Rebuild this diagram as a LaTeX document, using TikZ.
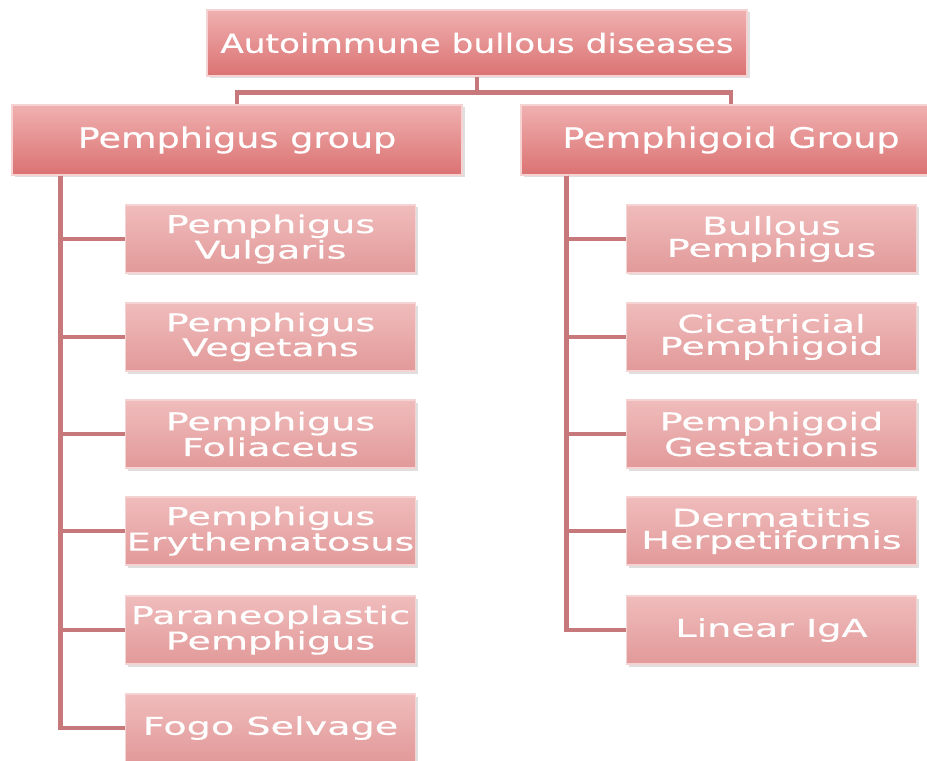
\documentclass[tikz,border=0pt]{standalone}
\usepackage{fontspec}
\setmainfont{DejaVu Sans}
\newfontfamily\headfont[FakeStretch=1.3,FakeBold=0.4]{DejaVu Sans}
\newfontfamily\leaffont[FakeStretch=1.55,FakeBold=0.4]{DejaVu Sans}
\usetikzlibrary{shadows}

\definecolor{rosetop}{HTML}{F0B0B0}
\definecolor{rosebot}{HTML}{DB7272}
\definecolor{petaltop}{HTML}{F0BCBC}
\definecolor{petalbot}{HTML}{E29999}
\definecolor{rosewire}{HTML}{C7787A}
\definecolor{roseedge}{HTML}{F6D3D3}

\tikzset{
  groupbox/.style={rectangle, draw=roseedge, line width=0.6pt,
    top color=rosetop, bottom color=rosebot, text=white, inner xsep=0pt,
    font=\headfont\fontsize{16}{18}\selectfont, align=center,
    drop shadow={opacity=0.25, shadow xshift=0.05cm, shadow yshift=-0.05cm}},
  childbox/.style={rectangle, draw=roseedge, line width=0.6pt,
    top color=petaltop, bottom color=petalbot, text=white, inner xsep=0pt,
    minimum width=5.8cm, minimum height=1.36cm,
    font=\leaffont\fontsize{14}{12.6}\selectfont, align=center,
    drop shadow={opacity=0.25, shadow xshift=0.05cm, shadow yshift=-0.05cm}},
  link/.style={rosewire, line width=2.4pt}
}

\begin{document}
\begin{tikzpicture}
\useasboundingbox (0,0) rectangle (18.54,-15.22);

% top of the tree
\node[groupbox, minimum width=10.8cm, minimum height=1.32cm, font=\headfont\fontsize{15}{18}\selectfont] (abd) at (9.54,-0.86) {Autoimmune bullous diseases};
\node[groupbox, minimum width=9.0cm, minimum height=1.4cm] (pgus) at (4.74,-2.8) {Pemphigus group};
\node[groupbox, minimum width=8.4cm, minimum height=1.4cm] (pgoid) at (14.62,-2.8) {Pemphigoid Group};

% pemphigus side
\node[childbox] (vulg) at (5.41,-4.78) {Pemphigus\\Vulgaris};
\node[childbox] (veget) at (5.41,-6.74) {Pemphigus\\Vegetans};
\node[childbox] (foli) at (5.41,-8.68) {Pemphigus\\Foliaceus};
\node[childbox] (eryth) at (5.41,-10.62) {Pemphigus\\Erythematosus};
\node[childbox] (paran) at (5.41,-12.6) {Paraneoplastic\\Pemphigus};
\node[childbox] (fogo) at (5.41,-14.56) {Fogo Selvage};

% pemphigoid side
\node[childbox] (bull) at (15.43,-4.78) {Bullous\\Pemphigus};
\node[childbox] (cica) at (15.43,-6.74) {Cicatricial\\Pemphigoid};
\node[childbox] (gest) at (15.43,-8.68) {Pemphigoid\\Gestationis};
\node[childbox] (derm) at (15.43,-10.62) {Dermatitis\\Herpetiformis};
\node[childbox] (iga) at (15.43,-12.6) {Linear IgA};

\coordinate (fork) at ([yshift=-0.32cm]abd.south);
\draw[link] (abd.south) -- (fork) -| (pgus.north);
\draw[link] (fork) -| (pgoid.north);
\foreach \c in {vulg,veget,foli,eryth,paran,fogo}
  \draw[link] ([xshift=0.98cm]pgus.south west) |- (\c.west);
\foreach \c in {bull,cica,gest,derm,iga}
  \draw[link] ([xshift=0.92cm]pgoid.south west) |- (\c.west);
\end{tikzpicture}
\end{document}
